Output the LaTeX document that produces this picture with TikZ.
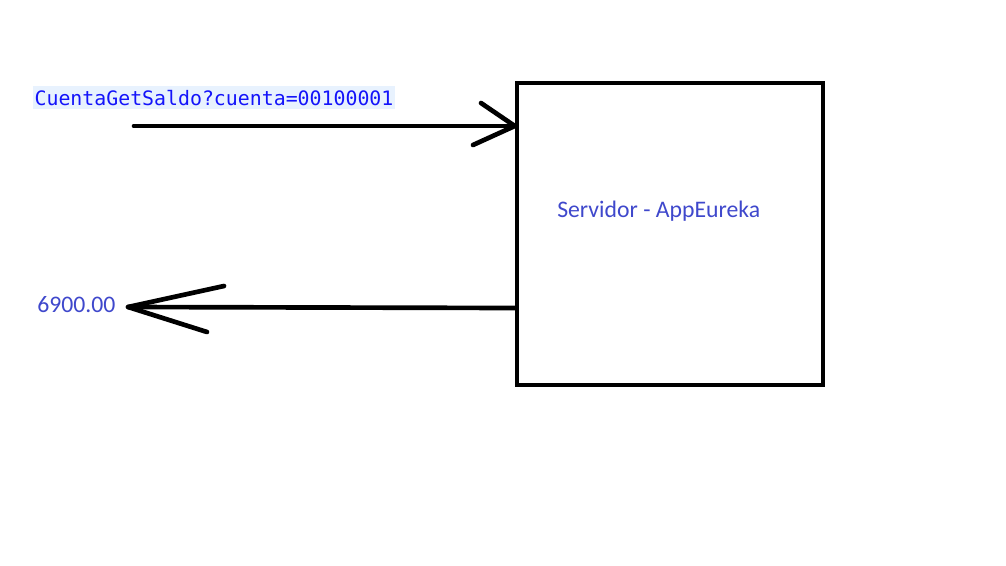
\documentclass[tikz,border=0pt]{standalone}
\usepackage{fontspec}
\setmainfont{Carlito}
\newfontfamily\monofnt{DejaVu Sans Mono}
\definecolor{lblblue}{RGB}{20,20,250}
\definecolor{lblbg}{RGB}{232,242,254}
\definecolor{txtblue}{RGB}{63,72,204}
\tikzset{
  stroke/.style={line width=3.5pt, line cap=round, line join=round, black},
  boxstyle/.style={line width=3.3pt, draw=black},
  reqtxt/.style={font=\monofnt\fontsize{14.9}{18}\selectfont, text=lblblue, fill=lblbg, inner xsep=1pt, inner ysep=3pt, anchor=base west},
  plaintxt/.style={font=\fontsize{17.8}{20}\selectfont, text=txtblue, inner sep=0pt, anchor=base west}
}
\begin{document}
\begin{tikzpicture}[x=0.75pt, y=-0.75pt]
\useasboundingbox (0,0) rectangle (1006,565);
\fill[white] (0,0) rectangle (1006,565);
% server box
\node[boxstyle, minimum width=306*0.75pt, minimum height=302*0.75pt, inner sep=0pt] (srv) at (670,234) {};
\node[plaintxt] (srvlbl) at (557,217) {Servidor - AppEureka};
% request
\node[reqtxt] (req) at (33,105) {CuentaGetSaldo?cuenta=00100001};
\coordinate (reqstart) at (134,126);
\coordinate (reqend) at (srv.west |- reqstart);
\coordinate (rh1) at (481,103);
\coordinate (rh2) at (473,145);
\draw[stroke] (reqstart) -- (reqend);
\draw[stroke] (rh1) -- (reqend) -- (rh2);
% response
\node[plaintxt] (resp) at (37,312) {6900.00};
\coordinate (respstart) at (srv.west |- 0,308);
\coordinate (respend) at (128,307);
\coordinate (sh1) at (224,286);
\coordinate (sh2) at (207,332);
\draw[stroke] (respstart) -- (respend);
\draw[stroke] (sh1) -- (respend) -- (sh2);
\end{tikzpicture}
\end{document}
